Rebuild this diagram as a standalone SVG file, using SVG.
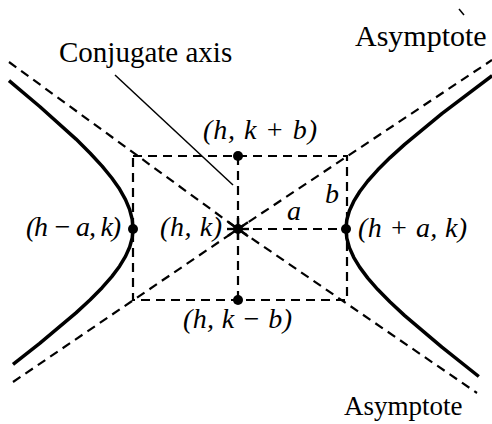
<svg xmlns="http://www.w3.org/2000/svg" width="492" height="424" viewBox="0 0 492 424">
<style>
.dash{fill:none;stroke:#000;stroke-width:2.2;stroke-dasharray:9 6}
.curve{fill:none;stroke:#000;stroke-width:3.5;stroke-linejoin:round;stroke-linecap:butt}
.thin{fill:none;stroke:#000;stroke-width:1.5}
.dot{fill:#000}
.star{stroke:#000;stroke-width:2.4}
.word{font-family:"Liberation Serif","Times New Roman",serif;fill:#000}
.math{font-family:"Liberation Serif","Times New Roman",serif;font-style:italic;font-size:28px;fill:#000}
</style>
<rect width="492" height="424" fill="#fff"/>
<g id="connectors">
  <polyline class="dash" points="9,62 238,229 477,393"/>
  <polyline class="dash" points="13,382 238,229 492,60"/>
  <rect class="dash" x="133" y="156" width="214" height="144"/>
  <line class="dash" x1="238" y1="156" x2="238" y2="300"/>
  <line class="dash" x1="238" y1="229" x2="346" y2="229"/>
  <line class="thin" x1="115" y1="75" x2="233" y2="185"/>
  <line class="thin" x1="459" y1="9" x2="464" y2="15"/>
</g>
<g id="hyperbola">
  <polyline class="curve" points="492.1,75.7 441.9,113.7 404.7,144.4 390.1,157.6 377.8,169.8 367.8,181 359.8,191.5 353.7,201.4 349.4,210.8 346.8,220 346,229 346.8,238.2 349.4,247.6 353.7,257.3 359.8,267.4 367.8,278.1 377.8,289.6 390.1,302 404.7,315.6 441.9,347.1 478.8,376.5"/>
  <polyline class="curve" points="9,80.7 39.7,106.5 76,139.1 90.2,153.2 102.1,166.1 111.8,178 119.6,189.1 125.5,199.6 129.7,209.7 132.2,219.4 133,229 132.2,237.9 129.7,247 125.5,256.4 119.6,266.2 111.8,276.6 102.1,287.7 90.2,299.8 76,312.9 39.7,343.4 13,364.3"/>
</g>
<g id="center">
  <line class="star" x1="227" y1="229" x2="249" y2="229"/>
  <line class="star" x1="238" y1="218" x2="238" y2="240"/>
  <line class="star" x1="228" y1="221.7" x2="248" y2="236.3"/>
  <line class="star" x1="228" y1="235.8" x2="248" y2="222.2"/>
  <circle class="dot" cx="238" cy="229" r="5"/>
  <text class="math" x="160" y="236" textLength="62" lengthAdjust="spacing">(h, k)</text>
</g>
<g id="top">
  <circle class="dot" cx="238" cy="156" r="5"/>
  <text class="math" x="203" y="139" textLength="114" lengthAdjust="spacing">(h, k + b)</text>
</g>
<g id="bottom">
  <circle class="dot" cx="238" cy="300" r="5"/>
  <text class="math" x="183" y="328" textLength="109" lengthAdjust="spacing">(h, k − b)</text>
</g>
<g id="left-vertex">
  <circle class="dot" cx="133" cy="229" r="5"/>
  <text class="math" x="26" y="236" textLength="95" lengthAdjust="spacing">(h − a, k)</text>
</g>
<g id="right-vertex">
  <circle class="dot" cx="346" cy="229" r="5"/>
  <text class="math" x="358" y="237" textLength="109" lengthAdjust="spacing">(h + a, k)</text>
</g>
<g id="labels">
  <text class="math" x="287" y="220">a</text>
  <text class="math" x="325" y="203">b</text>
  <text class="word" x="59" y="62" font-size="29">Conjugate axis</text>
  <text class="word" x="355" y="46" font-size="30">Asymptote</text>
  <text class="word" x="344" y="415" font-size="27">Asymptote</text>
</g>
</svg>
